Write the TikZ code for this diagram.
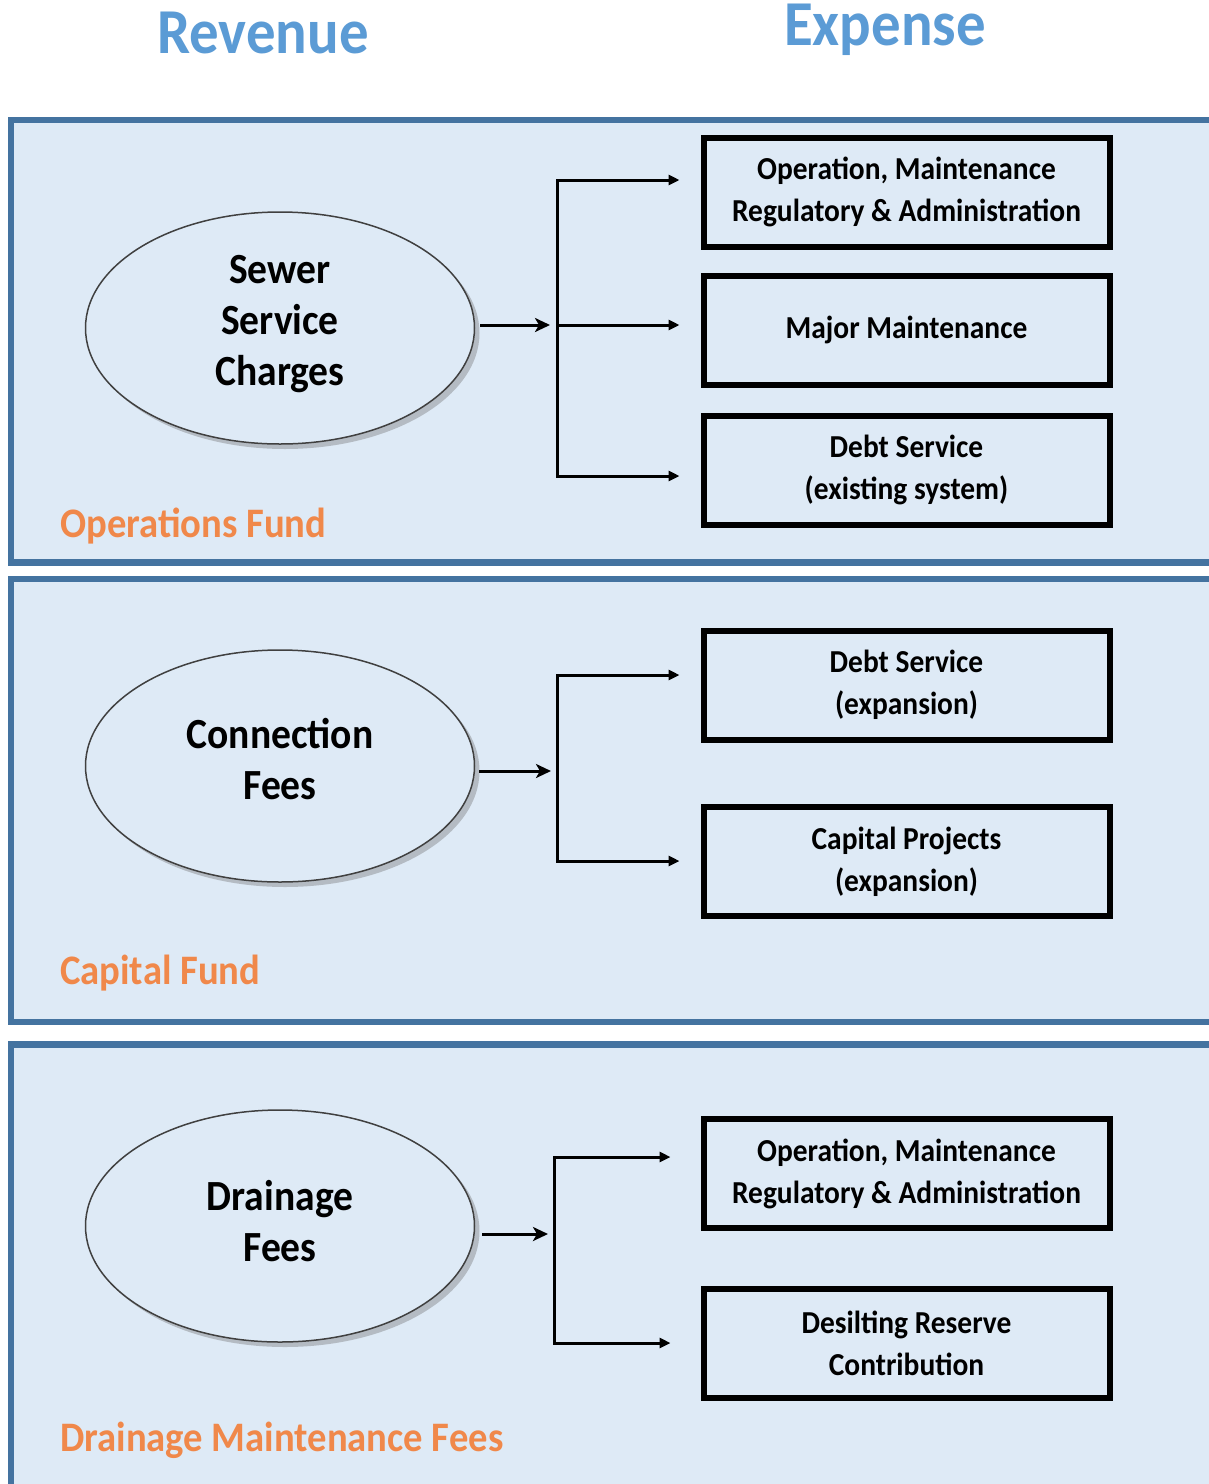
\documentclass[tikz,border=0pt]{standalone}
\usepackage{fontspec}
\setmainfont{Carlito}[FakeStretch=0.92]
\usetikzlibrary{shapes.geometric,shadows,arrows.meta}
\definecolor{panelblue}{RGB}{68,115,160}
\definecolor{panelfill}{RGB}{222,234,246}
\definecolor{titleblue}{RGB}{91,155,213}
\definecolor{fundorange}{RGB}{240,136,74}
\tikzset{
  panel/.style={draw=panelblue, line width=6.5pt, fill=panelfill},
  oval/.style={ellipse, draw=black!75, line width=1.5pt, fill=panelfill,
    minimum width=389pt, minimum height=232pt, inner sep=0pt,
    drop shadow={shadow xshift=5pt, shadow yshift=-5pt, opacity=0.35, fill=black!60}},
  ovaltext/.style={inner sep=0pt, align=center,
    font=\fontsize{43}{51}\selectfont\bfseries},
  ebox/.style={rectangle, draw=black, line width=6pt, fill=panelfill,
    minimum width=406pt, minimum height=109pt, inner sep=0pt, align=center,
    font=\fontsize{32}{42}\selectfont\bfseries,
    drop shadow={shadow xshift=3pt, shadow yshift=-3pt, opacity=0.25, fill=black!60}},
  title/.style={font=\fontsize{64}{64}\selectfont\bfseries, text=titleblue, inner sep=0pt},
  fund/.style={font=\fontsize{42}{42}\selectfont\bfseries, text=fundorange, inner sep=0pt, anchor=base west},
  mainarr/.style={line width=3pt, -{Stealth[length=15pt, width=14pt, inset=4pt]}},
  brarr/.style={line width=3pt, -{Triangle[length=11pt, width=10pt]}},
  brline/.style={line width=3pt, line cap=rect}
}
\begin{document}
\begin{tikzpicture}[x=1pt, y=-1pt]
\useasboundingbox (0,0) rectangle (1209,1484);
\clip (0,0) rectangle (1209,1484);
\fill[white] (0,0) rectangle (1209,1484);

% titles
\node[title] (rev) at (263,33) {Revenue};
\node[title] (exp) at (885,30) {Expense};

% panels
\draw[panel] (11,120) rectangle (1240,562.5);
\draw[panel] (11,579) rectangle (1240,1022);
\draw[panel] (11,1044.5) rectangle (1240,1530);

% ---------- panel 1 ----------
\node[oval] (e1) at (280,328) {};
\node[ovaltext] (t1) at ([yshift=4pt]e1.center) {Sewer\\Service\\Charges};
\node[ebox] (b11) at (906.5,192) {Operation, Maintenance\\Regulatory \& Administration};
\node[ebox] (b12) at (906.5,330) {Major Maintenance};
\node[ebox] (b13) at (906.5,470) {Debt Service\\(existing system)};
\node[fund] (f1) at (60,537) {Operations Fund};
\coordinate (j1) at (557,325);
\coordinate (j1t) at (557,180);
\coordinate (j1b) at (557,476);
\draw[mainarr, shorten <=5pt, shorten >=7pt] (e1.east |- j1) -- (j1);
\draw[brline] (j1t) -- (j1b);
\draw[brarr, shorten >=21pt] (j1t) -- (b11.west |- j1t);
\draw[brarr, shorten >=21pt] (j1) -- (b12.west |- j1);
\draw[brarr, shorten >=21pt] (j1b) -- (b13.west |- j1b);

% ---------- panel 2 ----------
\node[oval] (e2) at (280,766) {};
\node[ovaltext] (t2) at ([yshift=7pt]e2.center) {Connection\\Fees};
\node[ebox] (b21) at (906.5,685) {Debt Service\\(expansion)};
\node[ebox] (b22) at (906.5,861.5) {Capital Projects\\(expansion)};
\node[fund] (f2) at (60,984) {Capital Fund};
\coordinate (j2) at (557,771);
\coordinate (j2t) at (557,675);
\coordinate (j2b) at (557,861);
\draw[mainarr, shorten <=4pt, shorten >=6pt] (e2.east |- j2) -- (j2);
\draw[brline] (j2t) -- (j2b);
\draw[brarr, shorten >=21pt] (j2t) -- (b21.west |- j2t);
\draw[brarr, shorten >=21pt] (j2b) -- (b22.west |- j2b);

% ---------- panel 3 ----------
\node[oval] (e3) at (280,1226) {};
\node[ovaltext] (t3) at ([yshift=5pt]e3.center) {Drainage\\Fees};
\node[ebox] (b31) at (906.5,1173.5) {Operation, Maintenance\\Regulatory \& Administration};
\node[ebox] (b32) at (906.5,1343.5) {Desilting Reserve\\Contribution};
\node[fund] (f3) at (60,1451) {Drainage Maintenance Fees};
\coordinate (j3) at (554,1234);
\coordinate (j3t) at (554,1157);
\coordinate (j3b) at (554,1343);
\draw[mainarr, shorten <=7pt, shorten >=6pt] (e3.east |- j3) -- (j3);
\draw[brline] (j3t) -- (j3b);
\draw[brarr, shorten >=30pt] (j3t) -- (b31.west |- j3t);
\draw[brarr, shorten >=30pt] (j3b) -- (b32.west |- j3b);
\end{tikzpicture}
\end{document}
